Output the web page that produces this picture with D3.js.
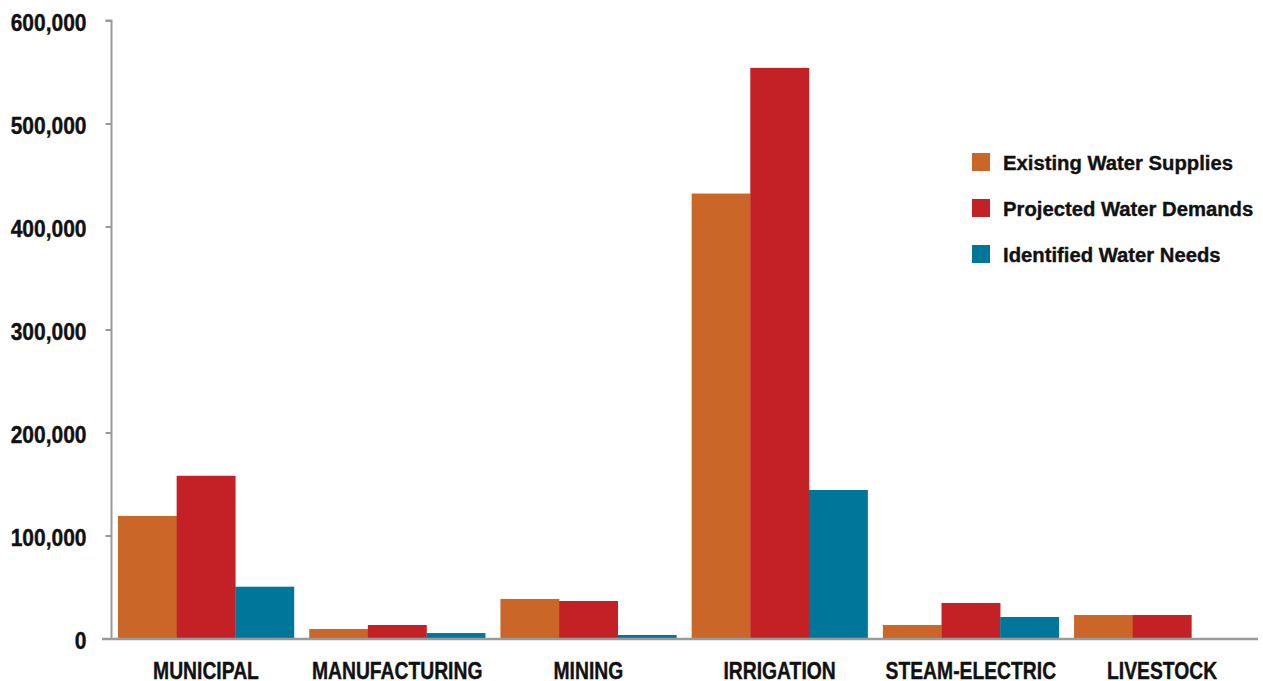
<!DOCTYPE html>
<html>
<head>
<meta charset="utf-8">
<script src="https://cdn.jsdelivr.net/npm/d3@7"></script>
<style>
  html, body { margin: 0; padding: 0; background: #ffffff; }
  svg { display: block; }
  text { font-family: "Liberation Sans", Arial, Helvetica, sans-serif; font-weight: bold; fill: #111; stroke: #111; stroke-width: 0.4px; }
</style>
</head>
<body>
<svg id="chart" width="1263" height="681"></svg>
<script>
const categories = ["MUNICIPAL", "MANUFACTURING", "MINING", "IRRIGATION", "STEAM-ELECTRIC", "LIVESTOCK"];
const seriesNames = ["Existing Water Supplies", "Projected Water Demands", "Identified Water Needs"];
const existingSupplies = [119000, 9200, 38400, 432000, 13100, 22800];
const projectedDemands = [158000, 13100, 36400, 554000, 34500, 22800];
const identifiedNeeds = [50300, 5300, 3400, 144200, 20900, 0];
const seriesColors = ["#CB6629", "#C42127", "#00769A"];
const yTicks = [0, 100000, 200000, 300000, 400000, 500000, 600000];

const seriesValues = [existingSupplies, projectedDemands, identifiedNeeds];

const svg = d3.select("#chart");
const mLeft = 111.5, mRight = 1258, mTop = 20.5, mBottom = 638.5;
const fontStack = '"Liberation Sans", Arial, Helvetica, sans-serif';

const x0 = d3.scaleBand().domain(categories).range([mLeft, 1256.5]).paddingInner(0.08).paddingOuter(0.034);
const x1 = d3.scaleBand().domain(seriesNames).range([0, x0.bandwidth()]).padding(0);
const y = d3.scaleLinear().domain([0, 600000]).range([mBottom, mTop]);

// bars
const groups = svg.append("g").selectAll("g")
  .data(categories)
  .join("g")
  .attr("transform", d => `translate(${x0(d)},0)`);

groups.selectAll("rect")
  .data((c, ci) => seriesNames.map((s, si) => ({ s, si, v: seriesValues[si][ci] })))
  .join("rect")
  .attr("x", d => x1(d.s))
  .attr("width", x1.bandwidth() + 0.3)
  .attr("y", d => y(d.v))
  .attr("height", d => y(0) - y(d.v))
  .attr("fill", d => seriesColors[d.si]);

// y axis
const ySx = 0.875;
const yAxis = d3.axisLeft(y).tickValues(yTicks).tickSize(6).tickPadding(0)
  .tickFormat(d3.format(","));
const gy = svg.append("g").attr("transform", `translate(${mLeft},0)`).call(yAxis);
gy.select(".domain").attr("stroke", "#9a9a9a").attr("stroke-width", 2).attr("d", `M-6,${mTop}H0V${mBottom}`);
gy.selectAll(".tick line").attr("stroke", "#9a9a9a").attr("stroke-width", 2);
gy.selectAll(".tick text").attr("font-size", 24).attr("dy", "0.42em")
  .attr("x", -25 / ySx).attr("transform", `scale(${ySx},1)`)
  .style("font-family", fontStack).style("font-weight", "bold").attr("fill", "#111");

// x axis line
svg.append("line").attr("x1", 102).attr("x2", mRight).attr("y1", mBottom + 0.5).attr("y2", mBottom + 0.5)
  .attr("stroke", "#9a9a9a").attr("stroke-width", 2.5);

// category labels
const xAxis = d3.axisBottom(x0).tickSize(0).tickPadding(23);
const gx = svg.append("g").attr("transform", `translate(0,${mBottom})`).call(xAxis);
gx.select(".domain").remove();
gx.selectAll(".tick text").attr("font-size", 24).attr("transform", "scale(0.805,1)")
  .style("font-family", fontStack).style("font-weight", "bold").attr("fill", "#111");

// legend
const legend = svg.append("g").attr("transform", "translate(972,153)");
const li = legend.selectAll("g").data(seriesNames).join("g")
  .attr("transform", (d, i) => `translate(0,${i * 46})`);
li.append("rect").attr("width", 18).attr("height", 18).attr("fill", (d, i) => seriesColors[i]);
li.append("text").attr("transform", "translate(31,17) scale(0.965,1)").attr("font-size", 21)
  .style("font-family", fontStack).style("font-weight", "bold").text(d => d);
</script>
</body>
</html>
